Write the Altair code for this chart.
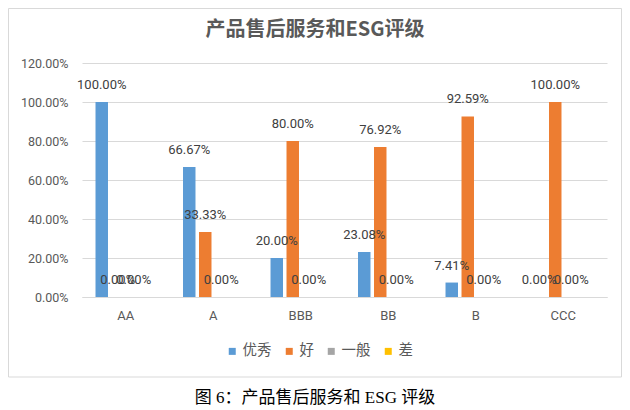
import altair as alt
import pandas as pd

categories = ["AA", "A", "BBB", "BB", "B", "CCC"]
series = ["优秀", "好", "一般", "差"]
excellent = [1.0, 0.6667, 0.20, 0.2308, 0.0741, 0.0]
good = [0.0, 0.3333, 0.80, 0.7692, 0.9259, 1.0]
average = [0.0, 0.0, 0.0, 0.0, 0.0, 0.0]
poor = [None, None, None, None, None, None]
colors = ["#5B9BD5", "#ED7D31", "#A5A5A5", "#FFC000"]
y_ticks = [0, 0.2, 0.4, 0.6, 0.8, 1.0, 1.2]
title_text = "产品售后服务和ESG评级"
caption_text = "图 6：产品售后服务和 ESG 评级"

rows = []
for s, vals in zip(series, [excellent, good, average, poor]):
    for c, v in zip(categories, vals):
        if v is not None:
            rows.append({"cat": c, "series": s, "value": v})
df = pd.DataFrame(rows)

num_font = "Roboto"
cjk_font = "Noto Sans CJK SC"

x_enc = alt.X(
    "cat:N", sort=categories,
    scale=alt.Scale(paddingInner=0.2686, paddingOuter=0.1343),
    axis=alt.Axis(title=None, labelAngle=0, ticks=False, domainColor="#d9d9d9",
                  labelPadding=12, labelFontSize=13, labelColor="#595959",
                  labelFont=num_font, grid=False),
)
xoff_enc = alt.XOffset(
    "series:N", sort=series,
    scale=alt.Scale(domain=series, paddingInner=0.22, paddingOuter=0.11),
)
y_enc = alt.Y(
    "value:Q",
    scale=alt.Scale(domain=[0, 1.2], nice=False),
    axis=alt.Axis(values=y_ticks, format=".2%", title=None, domain=False, ticks=False,
                  gridColor="#d9d9d9", labelPadding=14, labelFontSize=12.5,
                  labelColor="#595959", labelFont=num_font),
)
color_enc = alt.Color(
    "series:N", sort=series,
    scale=alt.Scale(domain=series, range=colors),
    legend=alt.Legend(title=None, orient="none", direction="horizontal",
                      legendX=143, legendY=281, symbolType="square", symbolSize=49,
                      symbolStrokeWidth=0, labelFontSize=14.5, labelFont=cjk_font,
                      labelColor="#595959", labelOffset=3, columnPadding=10),
)

bars = alt.Chart(df).mark_bar().encode(x=x_enc, xOffset=xoff_enc, y=y_enc, color=color_enc)

labels = alt.Chart(df).mark_text(
    dy=-17, baseline="middle", align="center", fontSize=13, font=num_font, color="#404040"
).encode(x=x_enc, xOffset=xoff_enc, y=y_enc, text=alt.Text("value:Q", format=".2%"))

one = pd.DataFrame({"a": [0]})

border = alt.Chart(one).mark_rect(fillOpacity=0, stroke="#d9d9d9", strokeWidth=1).encode(
    x=alt.value(-73.5), x2=alt.value(539.5), y=alt.value(-54.5), y2=alt.value(314)
)

title = alt.Chart(one).mark_text(
    text=title_text, fontSize=20, font=cjk_font, fontWeight="bold", color="#595959",
    align="center", baseline="middle"
).encode(x=alt.value(233), y=alt.value(-33))

caption = alt.Chart(one).mark_text(
    text=caption_text, fontSize=17, font="Liberation Serif, Noto Sans CJK SC", color="#000000",
    align="center", baseline="middle"
).encode(x=alt.value(233), y=alt.value(335))

chart = alt.layer(border, bars, labels, title, caption).properties(
    width=525, height=234,
    autosize="none",
    padding={"left": 74, "top": 55, "right": 15, "bottom": 113},
).configure_view(stroke=None)

chart.save("out.html", embed_options={"renderer": "svg", "actions": False})
